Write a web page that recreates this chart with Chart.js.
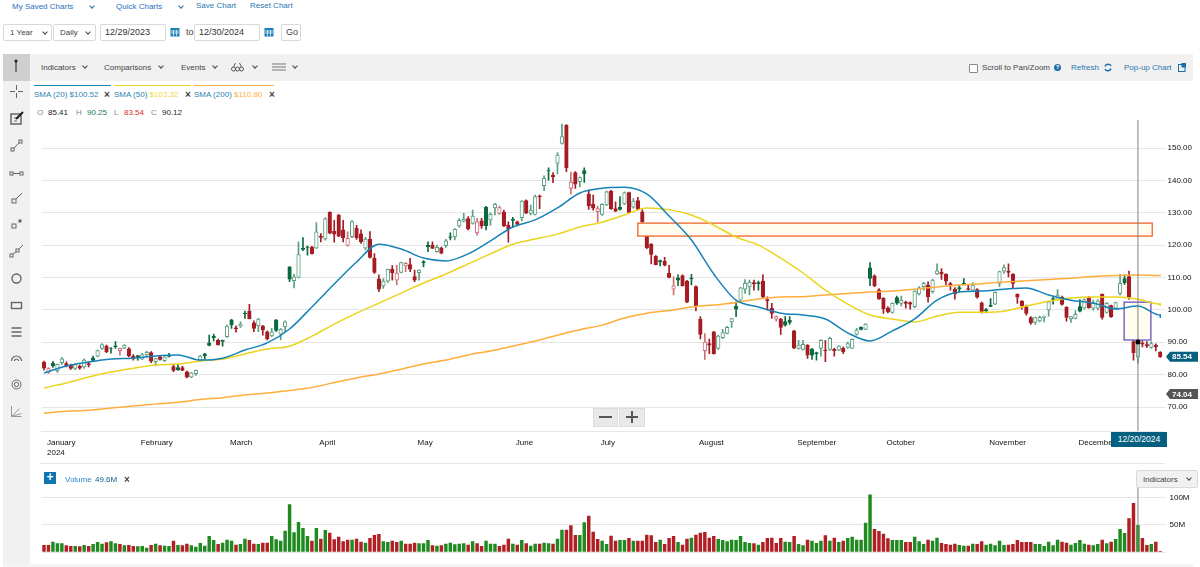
<!DOCTYPE html>
<html>
<head>
<meta charset="utf-8">
<title>Chart</title>
<script src="https://cdn.jsdelivr.net/npm/chart.js@4/dist/chart.umd.js"></script>
<style>
html, body { margin: 0; padding: 0; background: #fff; overflow: hidden; width: 1200px; height: 567px; font-family: "Liberation Sans", Arial, sans-serif; }
.t { position: absolute; white-space: nowrap; font-size: 8px; line-height: 10px; color: #444; }
.link { color: #2a78b0; }
.box { position: absolute; border: 1px solid #d9d9d9; border-radius: 2px; background: #fff; box-sizing: border-box; font-size: 8px; color: #444; line-height: 15px; padding-left: 6px; white-space: nowrap; }
.chev { position: absolute; width: 3px; height: 3px; border-right: 1px solid #444; border-bottom: 1px solid #444; transform: rotate(45deg); }
.chev.b { border-color: #1b6fa8; }
.x { position: absolute; font-size: 10px; line-height: 10px; color: #444; font-weight: bold; }
.rule { position: absolute; left: 40px; width: 1125px; height: 1px; background: #e6e6e6; }
.ico { position: absolute; left: 8px; width: 17px; height: 17px; fill: none; stroke: #666; stroke-width: 1; }
canvas { position: absolute; left: 0; }
</style>
</head>
<body>
<div class="t link" style="left:12px;top:2px;color:#2a6fc0">My Saved Charts</div><div class="chev b" style="left:90px;top:4px"></div>
<div class="t link" style="left:116px;top:2px;color:#2a6fc0">Quick Charts</div><div class="chev b" style="left:179px;top:4px"></div>
<div class="t link" style="left:196px;top:1px">Save Chart</div>
<div class="t link" style="left:250px;top:1px">Reset Chart</div>

<div class="box" style="left:3px;top:24px;width:49px;height:17px">1 Year</div><div class="chev" style="left:43px;top:30px"></div>
<div class="box" style="left:53px;top:24px;width:43px;height:17px">Daily</div><div class="chev" style="left:86px;top:30px"></div>
<div class="box" style="left:100px;top:24px;width:66px;height:17px;font-size:9px;color:#333;padding-left:4px">12/29/2023</div>
<svg style="position:absolute;left:170px;top:27px" width="10" height="10"><rect x="0.5" y="1" width="9" height="8.5" fill="#1b7fb5"/><path d="M1 4h8M1 6h8M3.5 3v6M6.5 3v6" stroke="#fff" stroke-width="0.7"/></svg>
<div class="t" style="left:186px;top:27px;font-size:9px">to</div>
<div class="box" style="left:194px;top:24px;width:66px;height:17px;font-size:9px;color:#333;padding-left:4px">12/30/2024</div>
<svg style="position:absolute;left:264px;top:27px" width="10" height="10"><rect x="0.5" y="1" width="9" height="8.5" fill="#1b7fb5"/><path d="M1 4h8M1 6h8M3.5 3v6M6.5 3v6" stroke="#fff" stroke-width="0.7"/></svg>
<div class="box" style="left:281px;top:24px;width:20px;height:17px;font-size:9px;padding-left:4px">Go</div>

<div style="position:absolute;left:30px;top:54px;width:1163px;height:27px;background:#f1f1f1"></div>
<div style="position:absolute;left:3px;top:81px;width:27px;height:484px;background:#f1f1f1"></div>
<div style="position:absolute;left:3px;top:54px;width:27px;height:27px;background:#cfcfcf"></div>
<div style="position:absolute;left:3px;top:564px;width:1190px;height:3px;background:#f4f4f4"></div>
<svg style="position:absolute;left:12px;top:58px" width="8" height="16"><circle cx="4" cy="3" r="1.6" fill="#222"/><path d="M4 3v11" stroke="#222" stroke-width="1"/></svg>
<div class="t" style="left:41px;top:63px">Indicators</div><div class="chev" style="left:83px;top:64px"></div>
<div class="t" style="left:104px;top:63px">Comparisons</div><div class="chev" style="left:159px;top:64px"></div>
<div class="t" style="left:181px;top:63px">Events</div><div class="chev" style="left:213px;top:64px"></div>
<svg style="position:absolute;left:231px;top:62px" width="13" height="10"><circle cx="2.5" cy="7" r="2" fill="none" stroke="#555"/><circle cx="6.5" cy="7" r="2" fill="none" stroke="#555"/><circle cx="10.5" cy="7" r="2" fill="none" stroke="#555"/><path d="M2.5 5L4.5 1M10.5 5L8.5 1" stroke="#555"/></svg>
<div class="chev" style="left:253px;top:64px"></div>
<svg style="position:absolute;left:272px;top:63px" width="14" height="9"><path d="M0 1h14M0 4h14M0 7h14" stroke="#777"/></svg>
<div class="chev" style="left:293px;top:64px"></div>
<div style="position:absolute;left:969px;top:64px;width:9px;height:9px;border:1px solid #888;border-radius:1px;background:#fff;box-sizing:border-box"></div>
<div class="t" style="left:982px;top:63px">Scroll to Pan/Zoom</div>
<div style="position:absolute;left:1054px;top:64px;width:7px;height:7px;border-radius:50%;background:#1b6fa8;color:#fff;font-size:6px;line-height:7px;text-align:center;font-weight:bold">?</div>
<div class="t link" style="left:1071px;top:63px">Refresh</div>
<svg style="position:absolute;left:1104px;top:63px" width="8" height="9"><path d="M1 3.5C2 0.5 6 0.5 7 3M7 5.5C6 8.5 2 8.5 1 6" fill="none" stroke="#1b6fa8" stroke-width="1.4"/></svg>
<div class="t link" style="left:1124px;top:63px">Pop-up Chart</div>
<svg style="position:absolute;left:1178px;top:63px" width="8" height="9"><rect x="0.5" y="1.5" width="6.5" height="7" fill="none" stroke="#1b6fa8"/><rect x="3.5" y="0" width="4.5" height="4.5" fill="#1b6fa8"/></svg>

<div style="position:absolute;left:34px;top:85px;width:77px;height:1px;background:#1b84b8"></div>
<div style="position:absolute;left:114px;top:85px;width:77px;height:1px;background:#eed61f"></div>
<div style="position:absolute;left:194px;top:85px;width:80px;height:1px;background:#ffb347"></div>
<div class="t" style="left:34px;top:90px;color:#2a86b8">SMA (20) $100.52</div><div class="x" style="left:104px;top:90px">×</div>
<div class="t" style="left:114px;top:90px;color:#2a86b8">SMA (50) <span style="color:#efd83a">$103.32</span></div><div class="x" style="left:185px;top:90px">×</div>
<div class="t" style="left:194px;top:90px;color:#2a86b8">SMA (200) <span style="color:#ffae42">$110.80</span></div><div class="x" style="left:269px;top:90px">×</div>
<div class="t" style="left:37px;top:108px;color:#888">O</div><div class="t" style="left:48px;top:108px;color:#222">85.41</div>
<div class="t" style="left:76px;top:108px;color:#888">H</div><div class="t" style="left:87px;top:108px;color:#1c7f4d">90.25</div>
<div class="t" style="left:114px;top:108px;color:#888">L</div><div class="t" style="left:124px;top:108px;color:#e02a2a">83.54</div>
<div class="t" style="left:151px;top:108px;color:#888">C</div><div class="t" style="left:162px;top:108px;color:#222">90.12</div>

<svg class="ico" style="top:83px" viewBox="0 0 17 17"><path d="M8.5 2v5M8.5 10v5M2 8.5h5M10 8.5h5"/></svg>
<svg class="ico" style="top:110px" viewBox="0 0 17 17"><rect x="3" y="4" width="10" height="10" stroke-width="1.5"/><path d="M6 8h5M6 11h3"/><path d="M8 9L15 2" stroke="#222" stroke-width="2"/></svg>
<svg class="ico" style="top:137px" viewBox="0 0 17 17"><rect x="3" y="11" width="3" height="3"/><rect x="11" y="3" width="3" height="3"/><path d="M6 11l5-5"/></svg>
<svg class="ico" style="top:165px" viewBox="0 0 17 17"><rect x="2" y="7" width="3" height="3"/><rect x="12" y="7" width="3" height="3"/><path d="M5 8.5h7"/></svg>
<svg class="ico" style="top:190px" viewBox="0 0 17 17"><rect x="4" y="9" width="4" height="4"/><path d="M8 9l6-6"/></svg>
<svg class="ico" style="top:215px" viewBox="0 0 17 17"><rect x="4" y="9" width="4" height="4"/><rect x="11" y="5" width="2" height="2" fill="#666"/></svg>
<svg class="ico" style="top:242px" viewBox="0 0 17 17"><rect x="2" y="12" width="3" height="3"/><rect x="8" y="7" width="3" height="3"/><path d="M5 12l3-2M11 7l4-4"/></svg>
<svg class="ico" style="top:270px" viewBox="0 0 17 17"><circle cx="8.5" cy="8.5" r="4.5" stroke-width="1.4"/></svg>
<svg class="ico" style="top:297px" viewBox="0 0 17 17"><rect x="3.5" y="5.5" width="10" height="6" stroke-width="1.4"/></svg>
<svg class="ico" style="top:324px" viewBox="0 0 17 17"><path d="M3.5 4h10M3.5 8h10M3.5 12h10" stroke-width="2" stroke="#888"/></svg>
<svg class="ico" style="top:350px" viewBox="0 0 17 17"><path d="M3.5 11a5 5 0 0 1 10 0M6.5 11a2 2 0 0 1 4 0" stroke-width="1.2"/></svg>
<svg class="ico" style="top:376px" viewBox="0 0 17 17"><circle cx="8.5" cy="8.5" r="4.5"/><circle cx="8.5" cy="8.5" r="2.2"/></svg>
<svg class="ico" style="top:403px" viewBox="0 0 17 17"><path d="M3.5 3v10.5h10M3.5 13.5l8-8M3.5 13.5l10-3" stroke="#999"/></svg>

<canvas id="priceChart" width="1200" height="343" style="top:120px;width:1200px;height:343px"></canvas>
<div class="rule" style="top:463px"></div>
<canvas id="volumeChart" width="1200" height="72" style="top:484px;width:1200px;height:72px"></canvas>

<div style="position:absolute;left:593px;top:408px;width:25px;height:19px;background:#e9e9e9;border:1px solid #ddd;box-sizing:border-box"></div>
<div style="position:absolute;left:619px;top:408px;width:26px;height:19px;background:#e9e9e9;border:1px solid #ddd;box-sizing:border-box"></div>
<div style="position:absolute;left:599px;top:416px;width:13px;height:2px;background:#555"></div>
<div style="position:absolute;left:626px;top:416px;width:12px;height:2px;background:#555"></div>
<div style="position:absolute;left:631px;top:411px;width:2px;height:12px;background:#555"></div>

<div style="position:absolute;left:1111px;top:432px;width:56px;height:15px;background:#05607f;color:#fff;font-size:8.5px;line-height:15px;text-align:center">12/20/2024</div>

<div style="position:absolute;left:44px;top:472px;width:12px;height:12px;background:#0f75ad;color:#fff;font-size:12px;line-height:11px;text-align:center;font-weight:bold">+</div>
<div class="t" style="left:65px;top:475px;color:#2a86c8">Volume</div>
<div class="t" style="left:95px;top:475px;color:#0d5f80">49.6M</div>
<div class="x" style="left:124px;top:475px">×</div>
<div class="box" style="left:1136px;top:470px;width:62px;height:18px;background:#f1f1f1;line-height:17px">Indicators</div><div class="chev" style="left:1187px;top:476px"></div>

<script>
var priceTicks = [70, 80, 90, 100, 110, 120, 130, 140, 150];
var volumeTicks = [0, 50, 100];
var monthNames = ['January', 'February', 'March', 'April', 'May', 'June', 'July', 'August', 'September', 'October', 'November', 'December'];
var holidays = ['01/15', '02/19', '03/29', '05/27', '06/19', '07/04', '09/02', '11/28', '12/25'];

var opens = [83.8,80.7,83.5,81.2,83.7,83.4,82.9,81.9,82.6,82.4,83.4,85.2,85.7,88.1,88.8,88.2,88.9,87.4,88.2,88,85.7,85.9,84.8,86.1,86.8,84,85.5,84.3,85.9,82.5,82.2,82.2,80.9,79.2,80.3,84.5,86.4,89.8,91.8,90.6,90.6,91.7,96.9,94.5,95,99,99.6,96,95.1,95,93.2,92,96.9,92.5,94.8,113.3,109,110,119,119.5,119.4,119.1,122.8,121.9,130.2,124.3,129.2,124.7,119.9,122.6,125.3,123.5,119.1,121.9,116,109.6,107.4,108.9,112.6,109.2,111.6,113.6,114,110.3,111.5,114.9,120,120,118,119.2,119.8,122.6,122.6,125.9,127.3,128.2,126.7,123.8,127.5,131.7,127.8,131.5,129.8,130.1,126.2,128,127.2,128.5,133.8,129.8,129.5,135.2,138.4,143,141.6,145.3,151.4,157,137.5,142.4,139.6,143,135.7,132.7,130.3,129.5,132.4,136.7,131.3,131.7,132.7,136.2,131.7,133.8,130.3,125,120.3,116.6,115.2,115,111.3,106.4,109.9,110.6,108.9,109.8,107.2,97.2,87.4,89.6,93.2,88.1,91.4,92.7,96.3,101.2,103,106.4,107.1,108.4,108.4,108.9,103.2,100.5,97.1,97.2,96.4,96.8,93.5,88.1,87.8,89.1,87.9,86.8,88.1,87.6,87.8,87.8,87.6,88.1,88.4,88.1,92.4,94.6,94,113,110.5,106.1,103.6,100.6,99.2,103.8,102,102.4,102.3,101,104.9,107.2,107.7,105.6,111.1,111.6,111,108.1,106.4,106.9,108.2,106.6,106.1,106.3,102.2,100.1,101.5,101.8,108.2,112,112,111,104.8,102.7,101,97.6,96.1,96.6,97.7,100,103.5,103.2,103.9,100.8,97.2,97.4,101,100.5,103.9,100.5,100.5,104.8,99.2,101.3,100.5,105.1,109.7,110.3,90.2,85.41,89.7,89.3,88.4,89.1,86.9];
var highs = [84.2,82.2,84.1,83.3,85.3,84,83.3,83.4,83,84.9,84,85.7,87.6,89.6,89.1,88.4,90.2,88.2,89.3,88.4,86.2,86,86.6,87.3,87.1,85.1,85.8,85.6,86.6,83.3,83.2,82.6,81.1,80.7,81.4,86,86.6,92.2,92.5,91,90.7,95.3,97.1,95.1,96.3,99.6,101.7,96.6,97.4,95.2,93.5,94.3,97,94.2,96.6,113.4,111,121,122.3,119.7,119.6,127,123.6,128.5,130.3,127.7,129.5,127.7,124.1,127.6,126.1,124.7,122.4,124.2,117.4,110.8,109.7,112.6,113.7,113.8,114.8,114.6,115.9,112.3,112.4,115.2,121,121,120,119.4,121.8,123.8,125.1,128.2,129.8,128.8,130.8,128.3,128.3,132,130,132.9,132.1,130.8,127.2,128.6,127.4,133.8,134,132.4,135.5,135.5,141.4,143.9,142.4,148.6,157.4,157.2,142.5,142.7,141.1,143.9,137,135.5,132.1,132.8,136.8,136.9,133.4,135,136.5,136.4,134.4,134.8,131,125.5,120.5,116.8,115.4,116.2,113.8,110.2,110.8,110.8,109.1,111,107.4,97.9,92.7,91,93.4,92.2,94,94.9,97.4,102.5,107,109.4,109.2,109.2,108.9,110.8,104,102,98.2,97.4,97.9,97.9,93.7,90.6,90.6,89.3,88.1,87,90.8,90.6,91.6,88.1,89,88.6,90.1,91.1,94.3,94.8,95.8,114.6,110.8,106.6,103.8,101,102.2,104.3,104.3,102.7,102.5,106,107.2,108.5,108.7,109.5,114.2,112.8,111.2,108.5,106.9,107.5,109.7,107.9,108.4,106.6,102.4,100.5,103.5,105.6,112,113.9,114.2,111.2,105,102.9,101.5,97.9,97.8,98.1,98.2,102.7,103.9,106.3,104.3,101,98,99.7,103.2,103.4,104.1,103,103.2,105,102.3,101.5,102.4,111,110.8,112,92,90.25,90.4,90.2,90.2,89.5,87.1];
var lows = [81.4,80.4,82.2,80.7,83.2,82.4,81.6,81.5,81.6,81.9,82.4,84,85.5,87.8,86.8,86.6,88.1,86,88,85.5,84.5,84.5,84.7,85.8,83.7,82.7,84.5,84,85.5,80.9,81.3,81.2,79,79.1,79.8,84,84.5,88.9,90.4,89.1,88.8,91.5,94.3,93.1,94.6,97.4,97.2,93.3,93.3,92.2,90.7,91.7,93.3,90.7,93.3,108.7,106.8,109.9,118.3,116.9,117.2,119,121,121.5,123.5,120.9,122.6,121,119.7,122.3,121.8,120.5,118.5,116,111.3,105.6,106.6,108.5,109.2,107.7,111.4,111.8,111.8,108.7,109.2,113.3,118,119,117.8,117.3,119.3,121.6,121.6,125.5,127.2,124.7,126.5,123.1,125.2,124.7,126.2,129.3,129.5,125.7,120.9,125.5,125.9,127.5,129.7,129.3,129.3,131.3,136.8,140.1,139.3,142,151.2,142.7,135.8,137.5,138,139.4,131,130.8,127.2,129.2,132.2,131,130.3,130.8,132.5,129.9,131.4,130.8,127,118.9,114.2,113.9,113.6,113.6,109.9,104.6,107.5,107.3,102.2,107.7,99.7,91,84.7,86.5,86.3,87.8,91.1,92.6,94.6,97.9,102.5,105.1,104.6,106.1,106.1,103.5,99.9,97.4,96.5,92.4,95,95.5,88,87.9,87.6,85,84.7,84.5,85.7,84,87.5,85.7,87.4,86.5,88.1,88,92.2,93.8,93.9,107.5,107.2,103.2,98.9,99.1,99,101.7,101.2,100.5,100.2,100.7,104.6,106.1,102.4,105.2,110.9,109.4,107.7,106.1,103.3,105.6,107.7,106.1,105.6,103.6,99,99.1,101,101.6,107.2,111.3,110.2,106.6,102,100.2,98.4,95.5,95.5,96.3,96.3,98.1,101.8,103,101.5,96.5,96.1,97.2,99.4,100.3,100.5,99.9,100,97.1,99,97.7,100.3,104.6,107.9,103.2,84.5,83.54,88.6,88.4,88.1,87.3,85.3];
var closes = [82,81.9,82.7,83.2,84.9,82.8,81.9,83.1,82,84.5,83,84.4,87.4,89.3,87,88.1,88.6,88.1,89.1,85.8,84.9,85.5,86.2,86.9,84.2,85,84.7,85.5,85.6,81.3,81.5,81.3,79.3,80.6,81.3,85.7,85.8,89,91.4,89.3,90.3,95,95.4,94.2,95.6,98.8,97.3,94.3,97.2,93.8,91.1,93.2,93.7,94,96.3,109.5,110.2,117.1,118.7,119.3,117.4,124.1,122.4,128.1,123.7,123.4,122.8,122.3,122.1,127.3,122.3,121.1,121.9,116.2,111.6,106.4,108.9,112.5,111.5,111.4,114.6,114.4,112.6,109.2,112.3,114.6,119.5,119,119.3,117.5,121.3,122.4,124.9,127.7,128,125,129,127.2,125.9,126,129.5,132.6,131.6,125.9,124.9,127.6,126.4,133.6,129.9,130.8,135,134.9,140.6,142.9,141.1,147.8,153.5,143.9,139.5,138.8,140.9,142.1,132.1,131.4,131.3,132.6,136.5,131.3,130.5,131,136.2,130.1,133.6,131,127.2,119.2,117.1,114,114.9,113.8,110,107.4,109.2,107.5,102.4,109.6,101.2,92.4,90.1,89.1,86.5,91.9,93,94.6,97.3,100.2,106.8,108.2,108.5,108,108.1,104,102.8,98.9,97.9,94.6,95.3,96.1,88.2,89.1,89.4,86,86,86.5,90.6,87.3,91.2,87.4,88.8,87.1,89.6,90.9,93.8,94,95.6,109.7,107.4,103.4,100.3,99.4,102,102.1,103,102,101.8,105.8,106.8,108.2,104.1,109.2,112.1,111,108.9,107.7,104.9,106.4,107.9,106.3,107.7,103.9,99.2,99.7,101.1,105.4,111.8,113.1,111.6,108.2,103.9,101.2,98.9,96,97.6,97.7,98.1,102.5,103.2,104.6,101.7,97.7,97.9,98.6,99.6,103.2,100.7,102,102.8,97.7,102,97.9,102.3,108.2,108.4,103.9,86.8,90.12,89.4,88.9,89.6,88.6,85.54];
var volumes = [12.3,12.3,18.5,15.4,15.4,11.7,10.5,10.5,9.9,12.3,10.5,14.2,17.9,14.8,17.3,19.1,15.4,14.2,11.7,12.3,10.5,9.9,10.5,7.4,12.3,14.8,11.7,11.1,10.5,20.4,12.3,11.7,14.8,11.7,9.3,16,11.1,29,21.6,14.2,16.7,22.2,20.4,13,14.2,24.1,21.6,14.8,14.2,16.7,16.7,29,22.8,20.4,38.9,87.6,35.8,54.9,43.8,29,20.4,43.8,24.1,40.1,35.2,22.8,27.8,19.1,22.2,22.2,24.1,18.5,16.7,25.3,30.9,32.7,19.1,17.9,20.4,17.9,20.4,14.8,14.8,16.7,15.4,15.4,21.6,11.7,11.1,11.7,14.8,16.7,13.6,14.8,15.4,13,19.1,15.4,10.5,20.4,14.8,14.8,10.5,13,24.1,14.8,13,21.6,15.4,11.1,14.8,14.8,16.7,15.4,14.8,24.1,40.7,40.7,49,30.9,30.9,54.3,66.6,37,23.4,20.4,14.2,29.6,20.4,21.6,21.6,25.3,20.4,20.4,20.4,31.5,30.2,17.9,22.2,14.2,25.3,29,17.9,13,24.1,25.9,31.5,35.2,36.4,25.9,29,23.4,21.6,19.1,22.2,21.6,29,17.9,16,15.4,13,17.9,25.3,25.9,16,25.3,18.5,17.9,29,14.2,11.7,22.2,20.4,16,20.4,30.2,20.4,25.9,17.9,20.4,25.3,27.8,22.2,22.2,53.7,106,42,38.3,33.3,24.7,21.6,21.6,21.6,17.9,17.9,27.8,19.1,14.2,22.2,20.4,25.9,16,14.2,13,14.8,12.3,11.1,11.1,14.8,14.2,19.1,13,14.8,11.7,20.4,12.3,13,14.2,21.6,17.9,17.9,17.9,14.2,14.2,10.5,18.5,11.7,22.2,18.5,16.7,13,16,21.6,14.8,13,11.7,14.2,22.2,15.4,18.5,23.4,42,34.6,61.7,90,49.6,25.3,12.3,14.2,18.5,0.6];

// SMA values every 5 sessions, plus the last session
var sma20 = [80.5,82.7,83.9,84.8,85.1,85.8,86.1,84.5,85.1,87.6,89.8,94.1,100.9,108,114.8,120.3,118.8,116,115.1,117.3,121.3,125.6,127.8,131.5,136.1,137.6,137.9,135.8,129,121.6,111.1,103,100.9,99,98.4,97.2,92.9,90.4,93.5,97.2,103,105.5,105.8,106.4,106.8,104.6,103,102.1,100.3,101.2,98.4,97.5];
var sma50 = [75.9,77.4,79.3,80.8,82,83,83.3,84.2,84.8,86.4,87.9,88.8,91.9,95.6,99,102.1,105.2,108.3,111.1,114.2,117.3,120.3,121.9,123.4,125.6,127.1,129.3,131.5,130.9,129.3,126.2,122.5,120,116,111.4,106.1,101.8,98.4,97.2,96.3,98.1,99.3,99.3,99.6,101.2,102.7,103.7,104,104,103.3,101.8,101.2];
var sma200 = [68.1,68.7,69,69.7,70.3,70.9,71.5,72.3,72.9,73.7,74.3,75.1,76,77.6,79,80.2,81.7,83.3,84.5,86.1,87.3,88.8,90.4,92.2,93.9,95.3,97.5,99,99.8,100.9,101.5,102.3,103.4,104,104.1,104.6,105.1,105.5,105.8,106.4,107.1,107.7,108.1,108.6,109,109.4,109.8,110.3,110.6,110.8,110.6,110.5];
var smaStep = 5;

var resistanceZone = [133, 248.2, 122.8, 126.8];
var gapZone = [241.9, 247.9, 90.7, 102.4];
var crosshairDate = '12/20/2024';
var lastPrice = 85.54;
var refPrice = 74.04;
var firstPrevClose = 84.5;

// trading calendar for the x axis
function TradingDays() {
    var days = [];
    var d = new Date(2024, 0, 2);
    while (d <= new Date(2024, 11, 30)) {
        var mm = String(d.getMonth() + 1).padStart(2, '0');
        var dd = String(d.getDate()).padStart(2, '0');
        if (d.getDay() !== 0 && d.getDay() !== 6 && holidays.indexOf(mm + '/' + dd) < 0) {
            days.push(mm + '/' + dd + '/2024');
        }
        d.setDate(d.getDate() + 1);
    }
    return days;
}

var categories = TradingDays();
var crosshairIndex = categories.indexOf(crosshairDate);

var GREEN = '#0b6b3f', GREEN_HOLLOW = '#5a9f80', RED = '#a51c24', RED_HOLLOW = '#cf6f74';

function IsUp(i) {
    return closes[i] >= (i === 0 ? firstPrevClose : closes[i - 1]);
}

function StrokeColor(i) {
    var hollow = closes[i] > opens[i];
    if (IsUp(i)) return hollow ? GREEN_HOLLOW : GREEN;
    return hollow ? RED_HOLLOW : RED;
}

function SmaPoints(values) {
    return values.map(function (v, k) {
        return { x: categories[Math.min(k * smaStep, categories.length - 1)], y: v };
    });
}

function MonthTick(value) {
    var label = categories[value];
    if (!label) return '';
    var month = label.slice(0, 2);
    if (value > 0 && categories[value - 1].slice(0, 2) === month) return '';
    var name = monthNames[parseInt(month, 10) - 1];
    return value === 0 ? [name, '2024'] : name;
}

function DrawZone(chart, zone, stroke) {
    var ctx = chart.ctx, xs = chart.scales.x, ys = chart.scales.y;
    var x0 = xs.getPixelForValue(zone[0]), x1 = xs.getPixelForValue(zone[1]);
    var y0 = ys.getPixelForValue(zone[3]), y1 = ys.getPixelForValue(zone[2]);
    ctx.save();
    ctx.fillStyle = '#fffcf0';
    ctx.strokeStyle = stroke;
    ctx.lineWidth = 1.3;
    ctx.fillRect(x0, y0, x1 - x0, y1 - y0);
    ctx.strokeRect(x0, y0, x1 - x0, y1 - y0);
    ctx.restore();
}

function DrawPriceTag(chart, price, color) {
    var ctx = chart.ctx, y = chart.scales.y.getPixelForValue(price);
    ctx.save();
    ctx.fillStyle = color;
    ctx.beginPath();
    ctx.moveTo(1166, y);
    ctx.lineTo(1170, y - 5);
    ctx.lineTo(1198, y - 5);
    ctx.lineTo(1198, y + 5);
    ctx.lineTo(1170, y + 5);
    ctx.closePath();
    ctx.fill();
    ctx.fillStyle = '#fff';
    ctx.font = 'bold 8px "Liberation Sans"';
    ctx.textBaseline = 'middle';
    ctx.fillText(price.toFixed(2), 1172, y + 0.5);
    ctx.restore();
}

function DrawCrosshair(chart) {
    var ctx = chart.ctx, x = chart.scales.x.getPixelForValue(crosshairIndex), area = chart.chartArea;
    ctx.save();
    ctx.strokeStyle = '#808080';
    ctx.lineWidth = 1;
    ctx.beginPath();
    ctx.moveTo(x, area.top);
    ctx.lineTo(x, area.bottom);
    ctx.stroke();
    ctx.restore();
}

var priceOverlay = {
    id: 'priceOverlay',
    beforeDatasetDraw: function (chart, args) {
        // the zones cover the candles but stay under the moving averages
        if (args.index !== 4) return;
        DrawZone(chart, resistanceZone, '#f0642a');
        DrawZone(chart, gapZone, '#6a52b8');
    },
    afterDraw: function (chart) {
        DrawCrosshair(chart);
        var ctx = chart.ctx;
        ctx.save();
        ctx.fillStyle = '#000';
        ctx.beginPath();
        ctx.arc(chart.scales.x.getPixelForValue(crosshairIndex), chart.scales.y.getPixelForValue(closes[crosshairIndex]), 2.5, 0, Math.PI * 2);
        ctx.fill();
        ctx.restore();
        DrawPriceTag(chart, lastPrice, '#05607f');
        DrawPriceTag(chart, refPrice, '#555555');
    }
};

var volumeOverlay = {
    id: 'volumeOverlay',
    afterDraw: DrawCrosshair
};

Chart.defaults.font.family = '"Liberation Sans", Arial, sans-serif';
Chart.defaults.font.size = 8;
Chart.defaults.color = '#111';
Chart.defaults.animation = false;

function XAxisFit(scale) {
    scale.height = 32;
    scale.paddingLeft = 0;
    scale.paddingRight = 0;
}

// no label margins, so the plot area stays exactly where the layout puts it
function YAxisFit(scale) {
    scale.width = 37.5;
    scale.paddingTop = 0;
    scale.paddingBottom = 0;
}

function BuildPriceChart() {
    new Chart(document.getElementById('priceChart'), {
        type: 'bar',
        plugins: [priceOverlay],
        data: {
            labels: categories,
            datasets: [{
                label: 'Range',
                data: lows.map(function (l, i) { return [l, highs[i]]; }),
                backgroundColor: categories.map(function (c, i) { return StrokeColor(i); }),
                barThickness: 1,
                grouped: false,
                order: 5
            }, {
                label: 'Open / Close',
                data: opens.map(function (o, i) { return [o, closes[i]]; }),
                backgroundColor: categories.map(function (c, i) { return closes[i] > opens[i] ? '#ffffff' : StrokeColor(i); }),
                borderColor: categories.map(function (c, i) { return StrokeColor(i); }),
                borderWidth: 1,
                borderSkipped: false,
                barThickness: 3.6,
                grouped: false,
                order: 4
            }, {
                type: 'line',
                label: 'SMA (20)',
                data: SmaPoints(sma20),
                borderColor: '#1782b8',
                borderWidth: 1.5,
                pointRadius: 0,
                cubicInterpolationMode: 'monotone',
                order: 1
            }, {
                type: 'line',
                label: 'SMA (50)',
                data: SmaPoints(sma50),
                borderColor: '#ecd41e',
                borderWidth: 1.5,
                pointRadius: 0,
                cubicInterpolationMode: 'monotone',
                order: 2
            }, {
                type: 'line',
                label: 'SMA (200)',
                data: SmaPoints(sma200),
                borderColor: '#ffae3d',
                borderWidth: 1.5,
                pointRadius: 0,
                cubicInterpolationMode: 'monotone',
                order: 3
            }]
        },
        options: {
            responsive: false,
            layout: { padding: { left: 41.77 } },
            plugins: { legend: { display: false }, tooltip: { enabled: false } },
            scales: {
                x: {
                    offset: true,
                    grid: { display: false, drawTicks: false },
                    border: { color: '#e6e6e6' },
                    afterFit: XAxisFit,
                    ticks: {
                        autoSkip: false,
                        maxRotation: 0,
                        align: 'start',
                        padding: 7,
                        labelOffset: 3,
                        callback: MonthTick
                    }
                },
                y: {
                    position: 'right',
                    min: 62.6,
                    max: 158.65,
                    afterFit: YAxisFit,
                    afterBuildTicks: function (scale) {
                        scale.ticks = priceTicks.map(function (v) { return { value: v }; });
                    },
                    grid: { color: '#e6e6e6', tickLength: 3 },
                    border: { display: false },
                    ticks: {
                        padding: 2,
                        callback: function (v) { return v.toFixed(2); }
                    }
                }
            }
        }
    });
}

function BuildVolumeChart() {
    new Chart(document.getElementById('volumeChart'), {
        type: 'bar',
        plugins: [volumeOverlay],
        data: {
            labels: categories,
            datasets: [{
                label: 'Volume',
                data: volumes,
                backgroundColor: categories.map(function (c, i) { return IsUp(i) ? '#1f8a1f' : '#b11f24'; }),
                barThickness: 2.8
            }]
        },
        options: {
            responsive: false,
            layout: { padding: { left: 41.77, bottom: 4 } },
            plugins: { legend: { display: false }, tooltip: { enabled: false } },
            scales: {
                x: { offset: true, display: false },
                y: {
                    position: 'right',
                    min: 0,
                    max: 125.9,
                    afterFit: YAxisFit,
                    afterBuildTicks: function (scale) {
                        scale.ticks = volumeTicks.map(function (v) { return { value: v }; });
                    },
                    grid: { color: '#e6e6e6', tickLength: 3 },
                    border: { display: false },
                    ticks: {
                        padding: 4,
                        callback: function (v) { return v === 0 ? '' : v + 'M'; }
                    }
                }
            }
        }
    });
}

BuildPriceChart();
BuildVolumeChart();
</script>
</body>
</html>
